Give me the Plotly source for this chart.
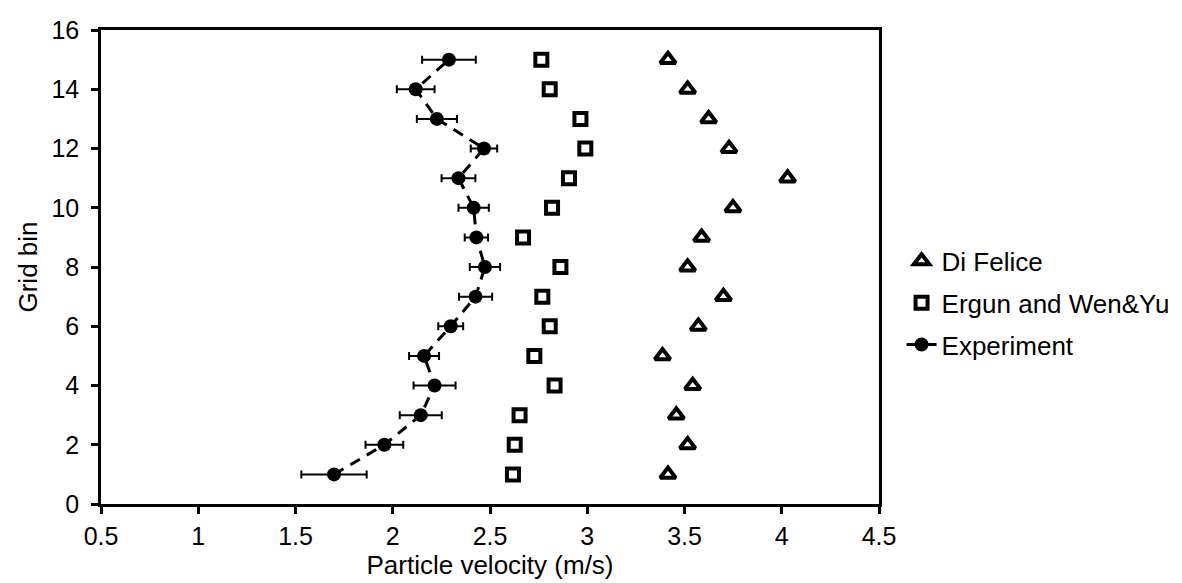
import plotly.graph_objects as go

grid_bin = list(range(1, 16))

di_felice = [3.415, 3.516, 3.458, 3.542, 3.387, 3.571, 3.700, 3.516, 3.588, 3.749, 4.030, 3.729, 3.624, 3.516, 3.415]
ergun_wenyu = [2.618, 2.627, 2.652, 2.832, 2.728, 2.807, 2.769, 2.862, 2.670, 2.819, 2.906, 2.990, 2.965, 2.807, 2.764]
experiment = [1.698, 1.957, 2.144, 2.215, 2.161, 2.298, 2.426, 2.474, 2.430, 2.416, 2.338, 2.469, 2.227, 2.118, 2.289]
exp_err = [0.168, 0.097, 0.108, 0.108, 0.077, 0.064, 0.085, 0.078, 0.060, 0.078, 0.087, 0.068, 0.103, 0.097, 0.138]

FONT = "Liberation Sans, Arial, sans-serif"

fig = go.Figure()
fig.add_trace(go.Scatter(
    x=di_felice, y=grid_bin, mode="markers", name="Di Felice", legendgroup="a",
    marker=dict(symbol="triangle-up-open", size=13.5, color="black", line=dict(width=4, color="black")),
))
fig.add_trace(go.Scatter(
    x=ergun_wenyu, y=grid_bin, mode="markers", name="Ergun and Wen&Yu", legendgroup="b",
    marker=dict(symbol="square-open", size=12, color="black", line=dict(width=4, color="black")),
))
fig.add_trace(go.Scatter(
    x=experiment, y=grid_bin, mode="lines+markers", name="Experiment", legendgroup="c",
    line=dict(color="black", width=3, dash="11px,8px"),
    marker=dict(symbol="circle", size=14, color="black"),
    error_x=dict(type="data", array=exp_err, symmetric=True, color="black", thickness=2, width=4),
))

fig.update_layout(
    width=1182, height=583,
    margin=dict(l=93, r=311, t=22, b=87),
    paper_bgcolor="white", plot_bgcolor="white",
    font=dict(family=FONT, size=25, color="black"),
    showlegend=True,
    legend=dict(x=1.029, xanchor="left", y=0.424, yanchor="middle",
                font=dict(family=FONT, size=26, color="black"),
                traceorder="grouped", tracegroupgap=5, bgcolor="rgba(0,0,0,0)"),
)
fig.update_xaxes(
    range=[0.5, 4.5], dtick=0.5, tick0=0.5, showgrid=False, zeroline=False,
    showline=True, linewidth=2.5, linecolor="black", mirror=True,
    ticks="outside", ticklen=7, tickwidth=2.5, tickcolor="black",
    ticklabelstandoff=1, automargin=False,
    title=dict(text="Particle velocity (m/s)", font=dict(size=26), standoff=2),
)
fig.update_yaxes(
    range=[0, 16], dtick=2, tick0=0, showgrid=False, zeroline=False,
    showline=True, linewidth=2.5, linecolor="black", mirror=True,
    ticks="outside", ticklen=7, tickwidth=2.5, tickcolor="black",
    ticklabelstandoff=7, automargin=False,
    title=dict(text="Grid bin", font=dict(size=26), standoff=7),
)

fig.write_html("out.html")
